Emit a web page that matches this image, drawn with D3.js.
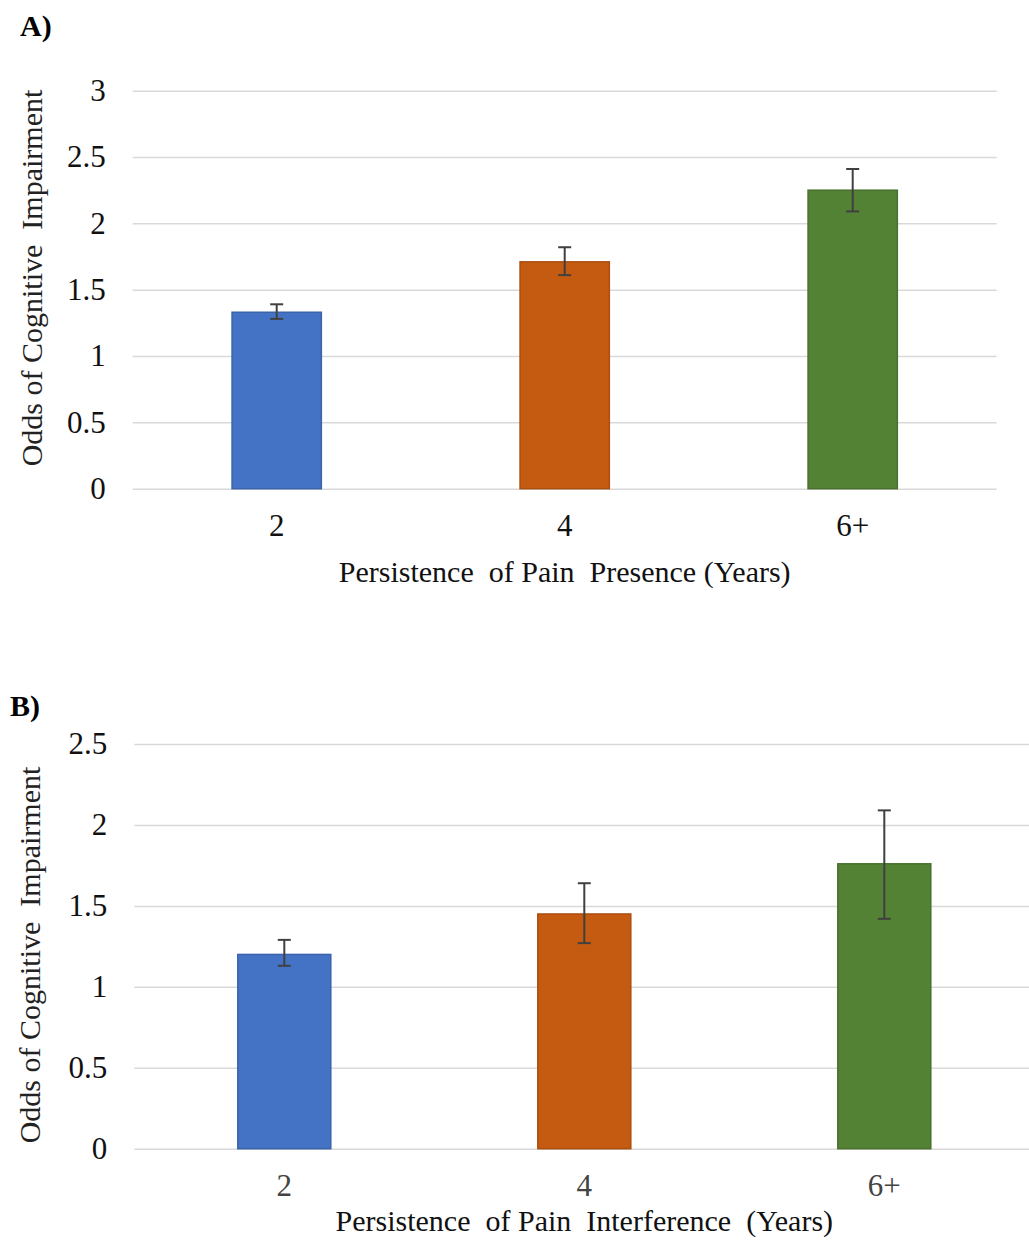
<!DOCTYPE html>
<html>
<head>
<meta charset="utf-8">
<script src="https://cdn.jsdelivr.net/npm/d3@7"></script>
<style>
body { margin: 0; background: #fff; }
svg { display: block; font-family: "Liberation Serif", "Times New Roman", serif; }
</style>
</head>
<body>
<svg></svg>
<script>
// chart values
var categories = ["2", "4", "6+"];

var presenceOdds = [1.33, 1.71, 2.25];
var presenceLow = [1.28, 1.61, 2.09];
var presenceHigh = [1.39, 1.82, 2.41];
var presenceTicks = [0, 0.5, 1, 1.5, 2, 2.5, 3];

var interferenceOdds = [1.20, 1.45, 1.76];
var interferenceLow = [1.13, 1.27, 1.42];
var interferenceHigh = [1.29, 1.64, 2.09];
var interferenceTicks = [0, 0.5, 1, 1.5, 2, 2.5];

var screen = {width: 1029, height: 1241};

var cScale = d3.scaleOrdinal()
    .domain(categories)
    .range(["#4472c4", "#c55a11", "#548235"]);

var svg = d3.select("svg")
    .attr("width", screen.width)
    .attr("height", screen.height);

var drawPanel = function(p)
{
    var data = categories.map(function(c, i){
        return {cat: c, odds: p.odds[i], low: p.low[i], high: p.high[i]};
    });

    var xScale = d3.scaleBand()
        .domain(categories)
        .range([p.left, p.right])
        .paddingInner(0.69)
        .paddingOuter(0.345);

    var yScale = d3.scaleLinear()
        .domain([0, d3.max(p.ticks)])
        .range([p.bottom, p.top]);

    var g = svg.append("g");

    // gridlines
    var grid = g.append("g")
        .attr("transform", "translate(" + p.left + ",0)")
        .call(d3.axisLeft(yScale).tickValues(p.ticks).tickSize(-(p.right - p.left)).tickFormat(""));
    grid.select(".domain").remove();
    grid.selectAll("line").attr("stroke", "#d9d9d9").attr("stroke-width", 1.5);

    // y tick labels
    var yAxis = g.append("g")
        .attr("transform", "translate(" + p.left + ",0)")
        .call(d3.axisLeft(yScale).tickValues(p.ticks).tickSize(0).tickPadding(27).tickFormat(d3.format("")));
    yAxis.select(".domain").remove();
    yAxis.selectAll("text")
        .attr("font-family", "Liberation Serif")
        .attr("font-size", 31)
        .attr("fill", "#111");

    // bars
    g.selectAll(".bar")
        .data(data)
        .enter()
        .append("rect")
        .attr("x", function(d){ return xScale(d.cat); })
        .attr("width", xScale.bandwidth())
        .attr("y", function(d){ return yScale(d.odds); })
        .attr("height", function(d){ return yScale(0) - yScale(d.odds); })
        .attr("fill", function(d){ return cScale(d.cat); })
        .attr("stroke", function(d){ return d3.color(cScale(d.cat)).darker(0.4); })
        .attr("stroke-width", 1.5);

    // error bars
    var cap = 6.5;
    var eb = g.selectAll(".err")
        .data(data)
        .enter()
        .append("g")
        .attr("stroke", "#404040")
        .attr("stroke-width", 2);
    eb.append("line")
        .attr("x1", function(d){ return xScale(d.cat) + xScale.bandwidth() / 2; })
        .attr("x2", function(d){ return xScale(d.cat) + xScale.bandwidth() / 2; })
        .attr("y1", function(d){ return yScale(d.low); })
        .attr("y2", function(d){ return yScale(d.high); });
    eb.append("line")
        .attr("x1", function(d){ return xScale(d.cat) + xScale.bandwidth() / 2 - cap; })
        .attr("x2", function(d){ return xScale(d.cat) + xScale.bandwidth() / 2 + cap; })
        .attr("y1", function(d){ return yScale(d.high); })
        .attr("y2", function(d){ return yScale(d.high); });
    eb.append("line")
        .attr("x1", function(d){ return xScale(d.cat) + xScale.bandwidth() / 2 - cap; })
        .attr("x2", function(d){ return xScale(d.cat) + xScale.bandwidth() / 2 + cap; })
        .attr("y1", function(d){ return yScale(d.low); })
        .attr("y2", function(d){ return yScale(d.low); });

    // x tick labels
    var xAxis = g.append("g")
        .attr("transform", "translate(0," + p.bottom + ")")
        .call(d3.axisBottom(xScale).tickSize(0).tickPadding(25));
    xAxis.select(".domain").remove();
    xAxis.selectAll("text")
        .attr("font-family", "Liberation Serif")
        .attr("font-size", 31)
        .attr("fill", p.xTickColor);

    // x title
    g.append("text")
        .attr("x", (p.left + p.right) / 2)
        .attr("y", p.bottom + p.titleGap)
        .attr("text-anchor", "middle")
        .attr("font-size", 30)
        .attr("fill", "#111")
        .attr("xml:space", "preserve")
        .text(p.xTitle);

    // y title
    g.append("text")
        .attr("transform", "translate(" + p.yTitleX + "," + p.yTitleY + ") rotate(-90)")
        .attr("text-anchor", "middle")
        .attr("font-size", 30)
        .attr("fill", "#222")
        .attr("xml:space", "preserve")
        .text("Odds of Cognitive  Impairment");

    // panel letter
    g.append("text")
        .attr("x", p.labelX)
        .attr("y", p.labelY)
        .attr("font-size", 30)
        .attr("font-weight", "bold")
        .attr("fill", "#000")
        .text(p.label);
}

drawPanel({
    odds: presenceOdds, low: presenceLow, high: presenceHigh, ticks: presenceTicks,
    left: 132.7, right: 996.7, top: 90.7, bottom: 488.7, titleGap: 93,
    xTitle: "Persistence  of Pain  Presence (Years)", xTickColor: "#111",
    yTitleX: 42, yTitleY: 278, label: "A)", labelX: 20, labelY: 36
});

drawPanel({
    odds: interferenceOdds, low: interferenceLow, high: interferenceHigh, ticks: interferenceTicks,
    left: 134.3, right: 1034.3, top: 744, bottom: 1148.7, titleGap: 82,
    xTitle: "Persistence  of Pain  Interference  (Years)", xTickColor: "#444",
    yTitleX: 40, yTitleY: 955, label: "B)", labelX: 10, labelY: 716
});
</script>
</body>
</html>
